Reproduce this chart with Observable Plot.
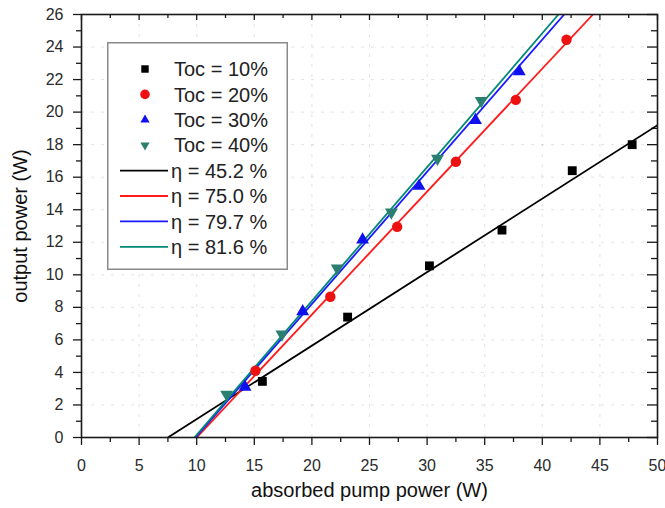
<!DOCTYPE html>
<html>
<head>
<meta charset="utf-8">
<script src="https://cdn.jsdelivr.net/npm/d3@7"></script>
<script src="https://cdn.jsdelivr.net/npm/@observablehq/plot@0.6"></script>
<style>
  html, body { margin: 0; padding: 0; background: #fff; }
  #wrap { position: relative; width: 665px; height: 508px; font-family: "Liberation Sans", Arial, sans-serif; }
  #legend { position: absolute; left: 107px; top: 42px; }
</style>
</head>
<body>
<div id="wrap"></div>
<script>
// ---- data ----
const seriesNames = ["Toc = 10%", "Toc = 20%", "Toc = 30%", "Toc = 40%"];
const seriesColors = ["#000000", "#ee1111", "#1010ee", "#2a7f70"];
const seriesSymbols = ["square", "circle", "triangle", "triangle"];
const seriesRotate = [0, 0, 0, 180];

const toc10X = [15.7, 23.1, 30.2, 36.5, 42.6, 47.8];
const toc10Y = [3.45, 7.4, 10.55, 12.75, 16.4, 18.0];
const toc20X = [15.1, 21.6, 27.4, 32.5, 37.7, 42.1];
const toc20Y = [4.1, 8.65, 12.95, 16.95, 20.75, 24.45];
const toc30X = [14.2, 19.2, 24.4, 29.3, 34.2, 38.0];
const toc30Y = [3.1, 7.75, 12.15, 15.45, 19.5, 22.5];
const toc40X = [12.6, 17.4, 22.2, 26.9, 30.9, 34.7];
const toc40Y = [2.65, 6.35, 10.4, 13.85, 17.15, 20.7];

const fitNames = ["η = 45.2 %", "η = 75.0 %", "η = 79.7 %", "η = 81.6 %"];
const fitColors = ["#000000", "#ff1a1a", "#1a1aff", "#008878"];
const fitStartX = [7.5, 10.0, 9.9, 9.8];
const fitStartY = [0, 0, 0, 0];
const fitEndX = [50, 44.4, 41.9, 41.4];
const fitEndY = [19.2, 26, 26, 26];

const xMajor = [0, 5, 10, 15, 20, 25, 30, 35, 40, 45, 50];
const xMinor = [2.5, 7.5, 12.5, 17.5, 22.5, 27.5, 32.5, 37.5, 42.5, 47.5];
const yMajor = [0, 2, 4, 6, 8, 10, 12, 14, 16, 18, 20, 22, 24, 26];
const yMinor = [1, 3, 5, 7, 9, 11, 13, 15, 17, 19, 21, 23, 25];

const xLabel = "absorbed pump power (W)";
const yLabel = "output power (W)";

// ---- build tables ----
const allX = [toc10X, toc20X, toc30X, toc40X];
const allY = [toc10Y, toc20Y, toc30Y, toc40Y];
const points = [];
allX.forEach((xs, s) => xs.forEach((x, i) => points.push({s, x, y: allY[s][i]})));
const fits = fitNames.map((n, i) => ({i, x1: fitStartX[i], y1: fitStartY[i], x2: fitEndX[i], y2: fitEndY[i]}));

const W = 665, H = 508;
const mL = 81, mR = 8, mT = 14, mB = 71;
const fw = W - mL - mR, fh = H - mT - mB;
const ink = "#1a1a1a";

const dotMarks = [0, 1, 2, 3].map(s => Plot.dot(points.filter(d => d.s === s), {
  x: "x", y: "y",
  symbol: () => seriesSymbols[s],
  fill: seriesColors[s],
  stroke: "none",
  r: s === 0 ? 5 : s === 1 ? 5.2 : 4.8,
  rotate: seriesRotate[s]
}));

const chart = Plot.plot({
  width: W, height: H,
  marginLeft: mL, marginRight: mR, marginTop: mT, marginBottom: mB,
  style: {fontFamily: '"Liberation Sans", Arial, sans-serif', color: ink, background: "transparent"},
  x: {domain: [0, 50]},
  y: {domain: [0, 26]},
  marks: [
    Plot.gridX(xMajor.slice(1, -1), {stroke: "#999", strokeOpacity: 0.28, strokeDasharray: "3,7"}),
    Plot.gridY(yMajor.slice(1, -1), {stroke: "#999", strokeOpacity: 0.28, strokeDasharray: "3,7"}),
    // bottom axis
    Plot.axisX(xMajor, {anchor: "bottom", tickSize: 8, tickPadding: 14, fontSize: 16, tickFormat: d => d, label: null, stroke: ink, fill: "#2a2a2a", strokeWidth: 1.3}),
    Plot.axisX(xMinor, {anchor: "bottom", tickSize: 5, tickFormat: () => "", label: null, stroke: ink, strokeWidth: 1.3}),
    // left axis
    Plot.axisY(yMajor, {anchor: "left", tickSize: 8, tickPadding: 10, fontSize: 16, tickFormat: d => d, label: null, stroke: ink, fill: "#2a2a2a", strokeWidth: 1.3}),
    Plot.axisY(yMinor, {anchor: "left", tickSize: 5, tickFormat: () => "", label: null, stroke: ink, strokeWidth: 1.3}),
    // inner mirror ticks (top & right)
    Plot.ruleX(xMajor, {insetBottom: fh - 6, stroke: ink, strokeWidth: 1.3}),
    Plot.ruleX(xMinor, {insetBottom: fh - 4, stroke: ink, strokeWidth: 1.3}),
    Plot.ruleY(yMajor, {insetLeft: fw - 10, stroke: ink, strokeWidth: 1.3}),
    Plot.ruleY(yMinor, {insetLeft: fw - 6, stroke: ink, strokeWidth: 1.3}),
    // fit lines
    Plot.link(fits, {x1: "x1", y1: "y1", x2: "x2", y2: "y2", stroke: d => fitColors[d.i], strokeWidth: 1.8, clip: true}),
    ...dotMarks,
    Plot.frame({stroke: ink, strokeWidth: 1.6}),
    // axis titles
    Plot.text([xLabel], {frameAnchor: "bottom", dy: 59, fontSize: 20, fill: "#111", text: d => d}),
    Plot.text([yLabel], {frameAnchor: "left", dx: -61, rotate: -90, textAnchor: "middle", fontSize: 20, fill: "#111", text: d => d})
  ]
});
document.getElementById("wrap").appendChild(chart);

// ---- legend overlay ----
const lw = 181, lh = 228;
const leg = d3.create("svg").attr("id", "legend").attr("width", lw).attr("height", lh)
  .style("font-family", '"Liberation Sans", Arial, sans-serif');
leg.append("rect").attr("x", 0.75).attr("y", 0.75).attr("width", lw - 1.5).attr("height", lh - 1.5)
  .attr("fill", "#fff").attr("stroke", "#8a8a8a").attr("stroke-width", 1.5);
const rowY = i => 27 + i * 25.4;
const symMap = {square: d3.symbolSquare, circle: d3.symbolCircle, triangle: d3.symbolTriangle2};
seriesNames.forEach((name, i) => {
  const r = i === 0 ? 4.2 : i === 1 ? 4.8 : 4.4;
  leg.append("path")
    .attr("d", d3.symbol(symMap[seriesSymbols[i]], Math.PI * r * r)())
    .attr("transform", `translate(38,${rowY(i)}) rotate(${seriesRotate[i]})`)
    .attr("fill", seriesColors[i]);
  leg.append("text").attr("x", 67).attr("y", rowY(i)).attr("dy", "0.36em")
    .attr("font-size", 20).attr("fill", "#222").text(name);
});
fitNames.forEach((name, j) => {
  const i = j + 4;
  leg.append("line").attr("x1", 13).attr("x2", 61).attr("y1", rowY(i)).attr("y2", rowY(i))
    .attr("stroke", fitColors[j]).attr("stroke-width", 1.8);
  leg.append("text").attr("x", 64).attr("y", rowY(i)).attr("dy", "0.36em")
    .attr("font-size", 20).attr("fill", "#222").text(name);
});
document.getElementById("wrap").appendChild(leg.node());
</script>
</body>
</html>
